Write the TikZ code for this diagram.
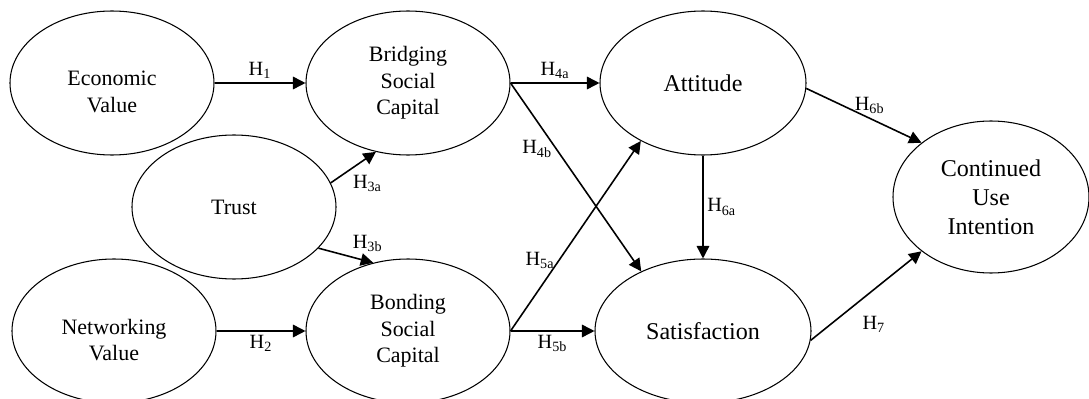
\documentclass[tikz,border=0pt]{standalone}
\usepackage{fontspec}
\setmainfont{Liberation Serif}
\usetikzlibrary{shapes.geometric, arrows.meta}

\begin{document}
\begin{tikzpicture}[
	construct/.style={ellipse, draw, line width=0.6pt, inner sep=0pt, minimum width=4.08cm, minimum height=2.88cm, align=center, font=\fontsize{12.5}{15}\selectfont},
	bigtext/.style={font=\fontsize{13.7}{16.5}\selectfont},
	lowtext/.style={align=center, yshift=-0.18cm, font=\fontsize{12.5}{15}\selectfont},
	hyp/.style={-{Triangle[length=0.25cm, width=0.25cm]}, line width=0.9pt},
	hlabel/.style={font=\fontsize{11.5}{13}\selectfont, inner sep=2pt}
]
	\clip (0,0) rectangle (21.78,7.96);

	%antecedents on the left
	\node[construct, label={[lowtext]center:Economic\\Value}] (econ) at (2.24,6.30) {};
	\node[construct] (trust) at (4.68,3.82) {Trust};
	\node[construct, label={[lowtext]center:Networking\\Value}] (netw) at (2.28,1.34) {};

	%social capital in the middle
	\node[construct] (bridge) at (8.16,6.30) {Bridging\\Social\\Capital};
	\node[construct] (bond) at (8.16,1.34) {Bonding\\Social\\Capital};

	%outcomes on the right
	\node[construct, bigtext, minimum width=4.12cm] (att) at (14.06,6.30) {Attitude};
	\node[construct, bigtext, minimum width=4.32cm] (sat) at (14.06,1.34) {Satisfaction};
	\node[construct, bigtext, minimum width=3.92cm, minimum height=3.04cm] (cui) at (19.82,4.02) {Continued\\Use\\Intention};

	%hypotheses H1 to H3
	\draw[hyp] (econ.east) -- node[hlabel, above] (h1) {H\textsubscript{1}} (bridge.west);
	\draw[hyp] (netw.east) -- node[hlabel, below] (h2) {H\textsubscript{2}} (bond.west);
	\draw[hyp] (trust.14.6) -- node[hlabel, pos=0.4, below right] (h3a) {H\textsubscript{3a}} (bridge.245.4);
	\draw[hyp] (trust.334) -- node[hlabel, pos=0.55, above right] (h3b) {H\textsubscript{3b}} (bond.117.9);

	%hypotheses H4 and H5
	\draw[hyp] (bridge.east) -- node[hlabel, above] (h4a) {H\textsubscript{4a}} (att.west);
	\draw[hyp] (bridge.east) -- node[hlabel, pos=0.35, left] (h4b) {H\textsubscript{4b}} (sat.136.9);
	\draw[hyp] (bond.east) -- node[hlabel, pos=0.37, left] (h5a) {H\textsubscript{5a}} (att.223.6);
	\draw[hyp] (bond.east) -- node[hlabel, below] (h5b) {H\textsubscript{5b}} (sat.west);

	%hypotheses H6 and H7
	\draw[hyp] (att.south) -- node[hlabel, right] (h6a) {H\textsubscript{6a}} (sat.north);
	\draw[hyp] (att.-3) -- node[hlabel, pos=0.55, above] (h6b) {H\textsubscript{6b}} (cui.142);
	\draw[hyp] (sat.-5) -- node[hlabel, pos=0.57, below=0.45cm] (h7) {H\textsubscript{7}} (cui.218.6);

\end{tikzpicture}
\end{document}
